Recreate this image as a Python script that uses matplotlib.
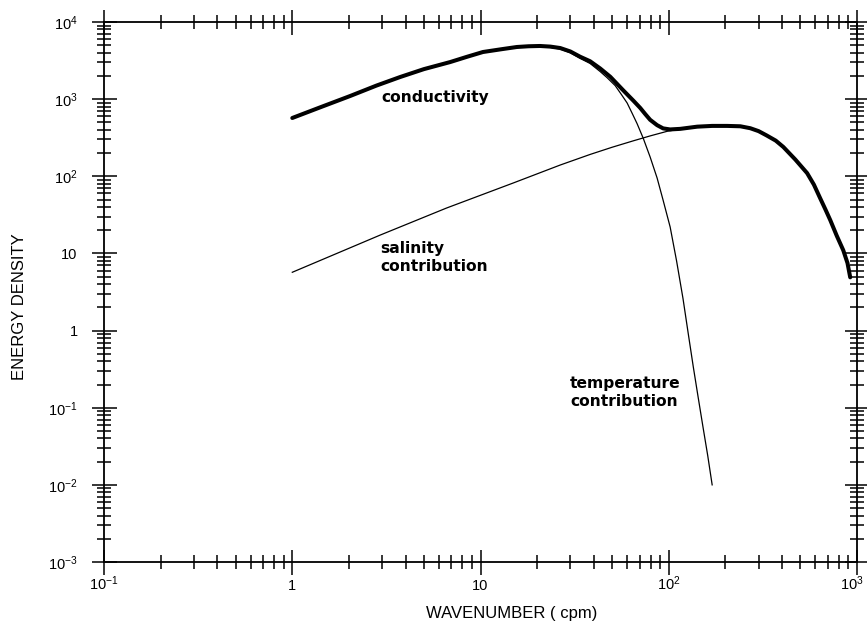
import matplotlib
matplotlib.use("Agg")
import matplotlib.pyplot as plt
from matplotlib.ticker import FixedLocator, LogLocator, NullFormatter
from matplotlib.transforms import ScaledTranslation

plt.rcParams["font.family"] = ["Liberation Sans", "DejaVu Sans"]

# Spectra: wavenumber (cpm) vs energy density
cond_x = [1, 1.4, 2.03, 2.8, 3.74, 5.0, 6.9, 8.5, 10.3, 13, 15.6, 18, 20.7,
          23.5, 26.5, 30, 33.8, 38.2, 43.2, 48.9, 57.3, 65, 70.5, 75, 79.6,
          86.7, 93.3, 101.6, 115, 141.6, 170, 204, 240, 271, 300, 330, 370,
          406, 470, 543, 590, 637, 680, 721, 780, 845, 890, 920]
cond_y = [570, 780, 1099, 1500, 1936, 2450, 3027, 3550, 4085, 4450, 4745,
          4850, 4890, 4800, 4600, 4150, 3550, 3100, 2500, 1950, 1300, 950,
          770, 640, 540, 460, 418, 405, 412, 440, 450, 450, 445, 420, 385,
          340, 290, 240, 165, 110, 78, 52, 37, 27, 17, 11, 7.5, 4.9]

sal_x = [1, 2.93, 6.6, 14.9, 26.5, 38.2, 50, 64.7, 80, 98, 120, 141.6]
sal_y = [5.7, 17.3, 38.8, 81.8, 140, 192, 238, 288, 335, 383, 418, 438]

temp_x = [1, 1.4, 2.03, 2.8, 3.74, 5.0, 6.9, 8.5, 10.3, 13, 15.6, 18, 20.7,
          23.5, 26.5, 30, 33.8, 38.2, 43.2, 47, 51.9, 56, 60.1, 64, 67.9,
          73.1, 79.6, 86.7, 93.3, 101.7, 110, 119, 127, 135, 143, 152, 161,
          170]
temp_y = [564, 772, 1085, 1480, 1910, 2420, 2990, 3505, 4030, 4390, 4670,
          4765, 4790, 4680, 4460, 3990, 3380, 2900, 2280, 1900, 1500, 1150,
          891, 650, 480, 313, 178, 95, 49, 22, 8, 2.6, 0.9, 0.337, 0.14,
          0.056, 0.024, 0.01]

xticks = [0.1, 1, 10, 100, 1000]
xtick_labels = [r"$\mathregular{10^{-1}}$", "1", "10",
                r"$\mathregular{10^{2}}$", r"$\mathregular{10^{3}}$"]
yticks = [1e-3, 1e-2, 1e-1, 1, 10, 100, 1e3, 1e4]
ytick_labels = [r"$\mathregular{10^{-3}}$", r"$\mathregular{10^{-2}}$",
                r"$\mathregular{10^{-1}}$", "1", "10",
                r"$\mathregular{10^{2}}$", r"$\mathregular{10^{3}}$",
                r"$\mathregular{10^{4}}$"]

fig = plt.figure(figsize=(8.67, 6.29), dpi=100)
ax = fig.add_axes([0.12, 0.1065, 0.8685, 0.8585])

ax.plot(sal_x, sal_y, color="black", lw=0.9)
ax.plot(temp_x, temp_y, color="black", lw=0.9)
ax.plot(cond_x, cond_y, color="black", lw=2.9, solid_capstyle="round",
        solid_joinstyle="round")

ax.set_xscale("log")
ax.set_yscale("log")
ax.set_xlim(0.1, 1000)
ax.set_ylim(1e-3, 1e4)

ax.xaxis.set_major_locator(FixedLocator(xticks))
ax.yaxis.set_major_locator(FixedLocator(yticks))
ax.xaxis.set_minor_locator(LogLocator(base=10, subs=range(2, 10), numticks=20))
ax.yaxis.set_minor_locator(LogLocator(base=10, subs=range(2, 10), numticks=20))
ax.xaxis.set_minor_formatter(NullFormatter())
ax.yaxis.set_minor_formatter(NullFormatter())
ax.set_xticklabels(xtick_labels)
ax.set_yticklabels(ytick_labels)

ax.tick_params(which="both", direction="inout", top=True, right=True,
               width=1.1, color="black")
ax.tick_params(which="major", length=18, labelsize=10.5)
ax.tick_params(axis="y", which="major", pad=10)
ax.tick_params(axis="x", which="major", pad=11)
ax.tick_params(which="minor", length=9.5)
plt.setp(ax.get_xticklabels(), va="baseline")

# nudge the rightmost x label so it stays inside the canvas
last = ax.get_xticklabels()[-1]
last.set_transform(last.get_transform()
                   + ScaledTranslation(-4 / 72, 0, fig.dpi_scale_trans))

for s in ax.spines.values():
    s.set_linewidth(1.3)

# Curve annotations
ax.text(0.44, 0.86, "conductivity", transform=ax.transAxes,
        ha="center", va="center", fontsize=11.2, fontweight="bold",
        family="DejaVu Sans")
ax.text(0.3665, 0.595, "salinity\ncontribution", transform=ax.transAxes,
        ha="left", va="top", fontsize=11.2, fontweight="bold",
        family="DejaVu Sans", linespacing=1.3)
ax.text(0.619, 0.345, "temperature\ncontribution", transform=ax.transAxes,
        ha="left", va="top", fontsize=11.2, fontweight="bold",
        family="DejaVu Sans", linespacing=1.3)

fig.text(20 / 867, 0.512, "ENERGY DENSITY", rotation=90,
         ha="center", va="center", fontsize=12)
fig.text(0.5905, 0.0254, "WAVENUMBER ( cpm)", ha="center", va="center",
         fontsize=12)

fig.savefig("out.png", dpi=100, facecolor="white")
